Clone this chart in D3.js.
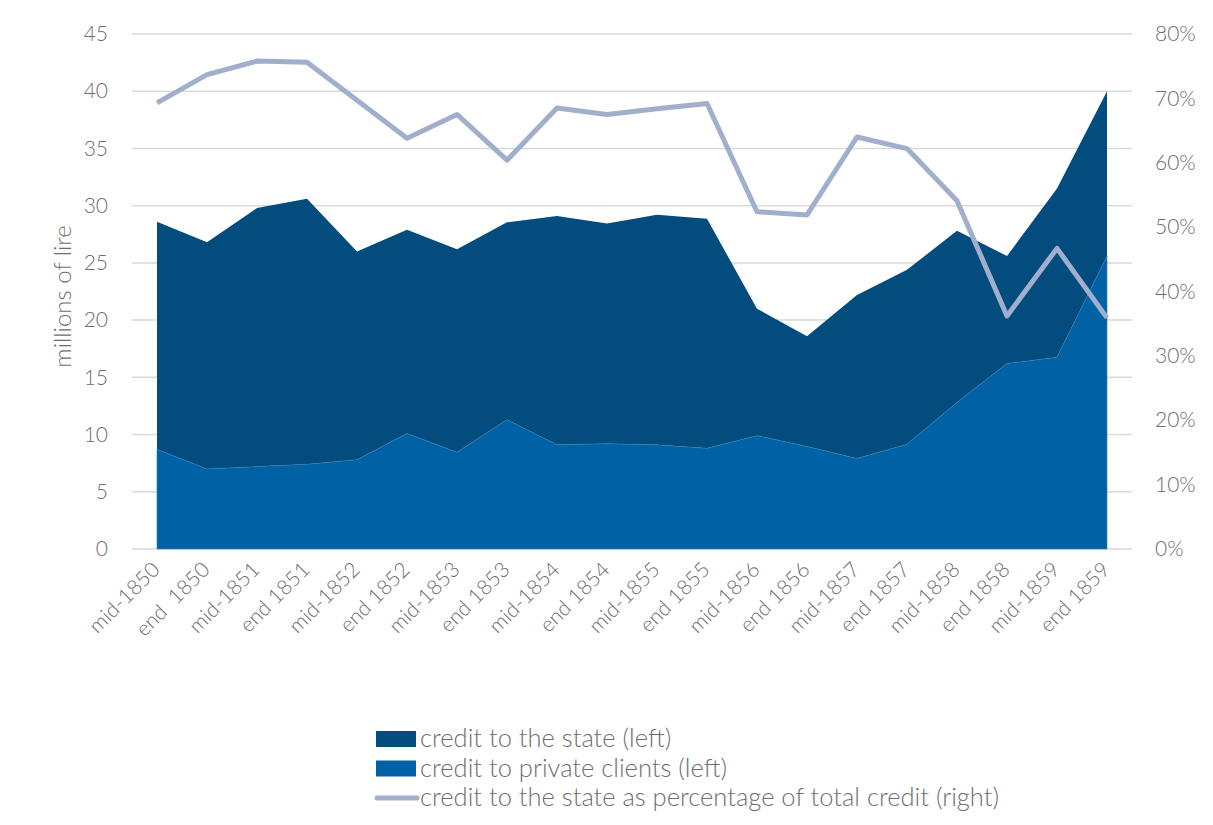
<!DOCTYPE html>
<html>
<head>
<meta charset="utf-8">
<script src="https://cdn.jsdelivr.net/npm/d3@7"></script>
<style>
  body { margin: 0; background: #fff; }
  text { font-family: "Source Sans Pro", Lato, "Open Sans", sans-serif; font-weight: 300; fill: #6e6e6e; }
</style>
</head>
<body>
<script>
// periods on the x axis
const periods = ["mid-1850", "end  1850", "mid-1851", "end 1851", "mid-1852", "end 1852",
  "mid-1853", "end 1853", "mid-1854", "end 1854", "mid-1855", "end 1855",
  "mid-1856", "end 1856", "mid-1857", "end 1857", "mid-1858", "end 1858",
  "mid-1859", "end 1859"];

// total credit (top of stacked area), millions of lire
const totalCredit = [28.6, 26.8, 29.8, 30.6, 26.0, 27.9, 26.2, 28.55, 29.1, 28.45,
  29.2, 28.85, 21.0, 18.6, 22.2, 24.4, 27.8, 25.6, 31.5, 40.0];

// credit to private clients, millions of lire
const privateCredit = [8.7, 7.0, 7.2, 7.4, 7.8, 10.1, 8.45, 11.3, 9.1, 9.2,
  9.1, 8.8, 9.9, 8.95, 7.9, 9.15, 12.8, 16.2, 16.75, 25.6];

// credit to the state as % of total (right axis)
const statePct = [69.3, 73.7, 75.8, 75.6, 69.7, 63.8, 67.5, 60.4, 68.5, 67.5,
  68.4, 69.2, 52.4, 51.9, 64.0, 62.2, 54.1, 36.2, 46.7, 35.9];

const leftTicks = [0, 5, 10, 15, 20, 25, 30, 35, 40, 45];
const rightTicks = [0, 10, 20, 30, 40, 50, 60, 70, 80];

const width = 1213, height = 825;
const margin = {top: 34, right: 81, bottom: 276, left: 132};

const svg = d3.select("body").append("svg")
  .attr("width", width)
  .attr("height", height);

const x = d3.scaleBand()
  .domain(periods)
  .range([margin.left, width - margin.right]);

const xc = d => x(d) + x.bandwidth() / 2;

const y = d3.scaleLinear()
  .domain([0, 45])
  .range([height - margin.bottom, margin.top]);

const yPct = d3.scaleLinear()
  .domain([0, 80])
  .range([height - margin.bottom, margin.top]);

// gridlines
svg.append("g")
  .selectAll("line")
  .data(leftTicks)
  .join("line")
  .attr("x1", margin.left)
  .attr("x2", width - margin.right)
  .attr("y1", d => y(d))
  .attr("y2", d => y(d))
  .attr("stroke", "#d9d9d9")
  .attr("stroke-width", 1.5);

const rows = periods.map((p, i) => ({
  period: p,
  total: totalCredit[i],
  priv: privateCredit[i],
  pct: statePct[i]
}));

// credit to the state (stacked on top of private)
svg.append("path")
  .datum(rows)
  .attr("fill", "#024c7e")
  .attr("d", d3.area()
    .x(d => xc(d.period))
    .y0(d => y(d.priv))
    .y1(d => y(d.total)));

// credit to private clients
svg.append("path")
  .datum(rows)
  .attr("fill", "#0062a5")
  .attr("stroke", "#2f7bb8")
  .attr("stroke-width", 0.6)
  .attr("d", d3.area()
    .x(d => xc(d.period))
    .y0(y(0))
    .y1(d => y(d.priv)));

// percentage line
svg.append("path")
  .datum(rows)
  .attr("fill", "none")
  .attr("stroke", "#a1afcc")
  .attr("stroke-width", 5)
  .attr("stroke-linejoin", "round")
  .attr("d", d3.line()
    .x(d => xc(d.period))
    .y(d => yPct(d.pct)));

// left axis
const yAxis = svg.append("g")
  .attr("transform", "translate(" + (margin.left - 24) + ",0)")
  .call(d3.axisLeft(y).tickValues(leftTicks).tickSize(0).tickPadding(0));
yAxis.select(".domain").remove();
yAxis.selectAll("text")
  .style("font-size", "21px");

// right axis
const yAxisR = svg.append("g")
  .attr("transform", "translate(" + (width - margin.right + 23) + ",0)")
  .call(d3.axisRight(yPct).tickValues(rightTicks).tickFormat(d => d + "%").tickSize(0).tickPadding(0));
yAxisR.select(".domain").remove();
yAxisR.selectAll("text")
  .style("font-size", "21px");

// y title
svg.append("text")
  .attr("transform", "translate(71," + ((margin.top + height - margin.bottom) / 2 + 5) + ") rotate(-90)")
  .attr("text-anchor", "middle")
  .style("font-size", "24px")
  .text("millions of lire");

// x labels
svg.append("g")
  .selectAll("text")
  .data(periods)
  .join("text")
  .attr("transform", d => "translate(" + (xc(d) + 4) + "," + (y(0) + 22) + ") rotate(-45)")
  .attr("text-anchor", "end")
  .style("font-size", "21px")
  .style("white-space", "pre")
  .text(d => d);

// legend
const legendItems = [
  {label: "credit to the state (left)", type: "rect", color: "#024c7e"},
  {label: "credit to private clients (left)", type: "rect", color: "#0062a5"},
  {label: "credit to the state as percentage of total credit (right)", type: "line", color: "#a1afcc"}
];

const legend = svg.append("g")
  .attr("transform", "translate(376,739)");

legendItems.forEach(function(item, i) {
  const g = legend.append("g").attr("transform", "translate(0," + (i * 29.5) + ")");
  if (item.type === "rect") {
    g.append("rect")
      .attr("x", 0).attr("y", -8)
      .attr("width", 40).attr("height", 16)
      .attr("fill", item.color);
  } else {
    g.append("line")
      .attr("x1", 1).attr("x2", 41)
      .attr("y1", 0).attr("y2", 0)
      .attr("stroke", item.color)
      .attr("stroke-width", 5)
      .attr("stroke-linecap", "round");
  }
  g.append("text")
    .attr("x", 44)
    .attr("y", 8)
    .style("font-size", "25.5px")
    .text(item.label);
});
</script>
</body>
</html>
